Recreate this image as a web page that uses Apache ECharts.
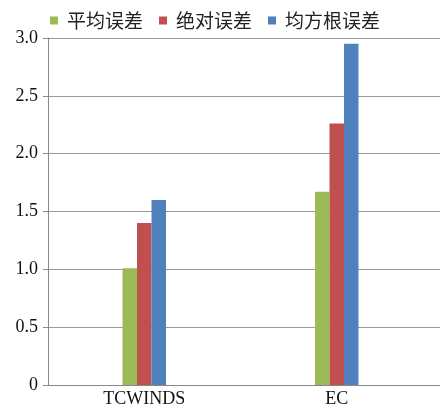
<!DOCTYPE html>
<html><head><meta charset="utf-8">
<script src="https://cdn.jsdelivr.net/npm/echarts@6/dist/echarts.min.js"></script>
<style>html,body{margin:0;padding:0;background:#fff}#c{width:440px;height:408px}</style>
</head><body><div id="c"></div>
<script>
var categories = ['TCWINDS', 'EC'];
var seriesNames = ['平均误差', '绝对误差', '均方根误差'];
var meanErr = [1.01, 1.67];
var absErr = [1.40, 2.26];
var rmsErr = [1.60, 2.95];
var colors = ['#9BBB59', '#C0504D', '#4F81BD'];

var chart = echarts.init(document.getElementById('c'));
var data = [meanErr, absErr, rmsErr];
chart.setOption({
  animation: false,
  color: colors,
  legend: {
    top: 6, left: 45,
    itemWidth: 8, itemHeight: 8, itemGap: 16,
    icon: 'rect',
    textStyle: {fontFamily: 'Noto Sans CJK SC', fontSize: 19, color: '#222', padding: [0, 0, 0, 4]},
    data: seriesNames
  },
  grid: [
    {left: 48, right: 0, top: 38, bottom: 23},
    {left: 48, right: 7, top: 38, bottom: 23}
  ],
  xAxis: [{
    gridIndex: 0, type: 'category', data: categories,
    axisLine: {lineStyle: {color: '#888'}},
    axisTick: {show: false},
    axisLabel: {show: false}
  }, {
    gridIndex: 1, type: 'category', data: categories,
    axisLine: {show: false},
    axisTick: {show: false},
    axisLabel: {fontFamily: 'Liberation Serif', fontSize: 18, color: '#111', margin: 5}
  }],
  yAxis: [{
    gridIndex: 0, type: 'value', min: 0, max: 3, interval: 0.5,
    axisLine: {show: true, lineStyle: {color: '#888'}},
    axisTick: {show: true, length: 5, lineStyle: {color: '#888'}},
    splitLine: {lineStyle: {color: '#999'}},
    axisLabel: {fontFamily: 'Liberation Serif', fontSize: 18, color: '#111', margin: 10,
      formatter: function(v){ return v === 0 ? '0' : v.toFixed(1); }}
  }, {
    gridIndex: 1, type: 'value', min: 0, max: 3, interval: 0.5,
    show: false
  }],
  series: seriesNames.map(function(n, i){
    return {name: n, type: 'bar', xAxisIndex: 1, yAxisIndex: 1,
      data: data[i], barWidth: 14.5, barGap: '0%'};
  })
});
</script></body></html>
